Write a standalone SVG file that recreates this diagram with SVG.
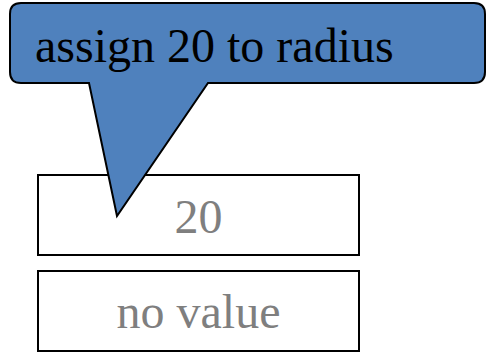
<svg xmlns="http://www.w3.org/2000/svg" width="491" height="354" viewBox="0 0 491 354">
<style>
.box{fill:#ffffff;stroke:#000000;stroke-width:2}
.val{font-family:"Liberation Serif","Times New Roman",serif;font-size:48px;fill:#7f7f7f;text-anchor:middle}
.call{fill:#4f81bd;stroke:#000000;stroke-width:2;stroke-linejoin:miter}
.ctext{font-family:"Liberation Serif","Times New Roman",serif;font-size:48px;fill:#000000}
</style>
<g id="cell-radius">
<rect class="box" x="38" y="175" width="321" height="80"/>
<text class="val" x="198.5" y="233">20</text>
</g>
<g id="cell-other">
<rect class="box" x="38" y="271" width="321" height="80"/>
<text class="val" x="198.5" y="328">no value</text>
</g>
<g id="connectors"></g>
<g id="callout">
<path class="call" d="M 21,3 H 474 Q 485,3 485,14 V 72 Q 485,83 474,83 H 208 L 117,216 L 89,83 H 21 Q 10,83 10,72 V 14 Q 10,3 21,3 Z"/>
<text class="ctext" x="35" y="62">assign 20 to radius</text>
</g>
</svg>
